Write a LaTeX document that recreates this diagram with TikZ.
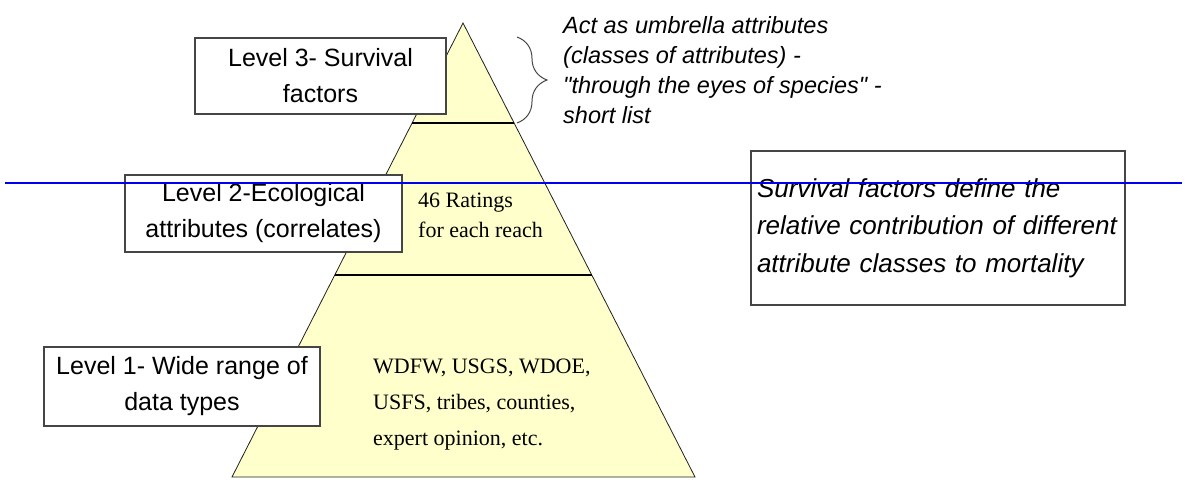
\documentclass[tikz,border=0pt]{standalone}
\usepackage{xcolor}
\usepackage{fontspec}
\setmainfont{Liberation Serif}
\newfontfamily\boxfont{Liberation Sans}
\usetikzlibrary{calc,decorations.pathreplacing}
\definecolor{PyrFill}{HTML}{FFFFCC}
\definecolor{PyrEdge}{HTML}{202020}
\definecolor{BoxLine}{HTML}{454545}
\definecolor{GuideBlue}{HTML}{0000F0}

\begin{document}
\begin{tikzpicture}[x=1pt,y=-1pt,
  levelbox/.style={draw=BoxLine,line width=1.3pt,fill=white,inner sep=0pt,align=center,
    font=\boxfont\fontsize{25}{36}\selectfont},
  notetext/.style={anchor=west,inner sep=0pt,align=left,font=\boxfont\itshape},
  pyrtext/.style={anchor=west,inner sep=0pt,align=left}]
\path[use as bounding box] (0,0) rectangle (1185,487);
% pyramid
\coordinate (apex) at (463,23);
\coordinate (baseL) at (232,477);
\coordinate (baseR) at (695,477);
\filldraw[fill=PyrFill,draw=PyrEdge,line width=0.8pt] (apex) -- (baseR) -- (baseL) -- cycle;
\draw[black,line width=2.4pt] ($(apex)!0.22!(baseL)$) coordinate (cutAL) -- ($(apex)!0.22!(baseR)$) coordinate (cutAR);
\draw[black,line width=2.4pt] ($(apex)!0.555!(baseL)$) coordinate (cutBL) -- ($(apex)!0.555!(baseR)$) coordinate (cutBR);
\node[pyrtext,font=\fontsize{22}{30}\selectfont] (ratings) at (418,215) {46 Ratings\\for each reach};
\node[pyrtext,font=\fontsize{22}{36}\selectfont] (sources) at (373,405) {WDFW, USGS, WDOE,\\USFS, tribes, counties,\\expert opinion, etc.};
% level labels
\node[levelbox,minimum width=251,minimum height=76] (level3) at (320.5,76) {Level 3- Survival\\factors};
\node[levelbox,minimum width=277,minimum height=77] (level2) at (263.5,213.5) {Level 2-Ecological\\attributes (correlates)};
\node[levelbox,minimum width=276,minimum height=79] (level1) at (182,386.5) {Level 1- Wide range of\\data types};
% brace and notes
\coordinate (braceTop) at (517,37);
\coordinate (braceBot) at (517,123);
\draw[BoxLine,line width=1pt,decorate,decoration={brace,amplitude=30pt}] (braceTop) -- (braceBot);
\node[notetext,font=\boxfont\itshape\fontsize{23.5}{30}\selectfont] (umbrella) at (563,70)
  {Act as umbrella attributes\\(classes of attributes) -\\"through the eyes of species" -\\short list};
\node[levelbox,align=left,inner xsep=6pt,text width=362,minimum height=154,
  font=\boxfont\itshape\fontsize{26}{37.5}\selectfont] (define) at (938,228)
  {Survival factors define the\\relative contribution of different\\attribute classes to mortality};
% guide line
\coordinate (guideL) at (5,183);
\coordinate (guideR) at (1182,183);
\draw[GuideBlue,line width=2pt] (guideL) -- (guideR);
\end{tikzpicture}
\end{document}
